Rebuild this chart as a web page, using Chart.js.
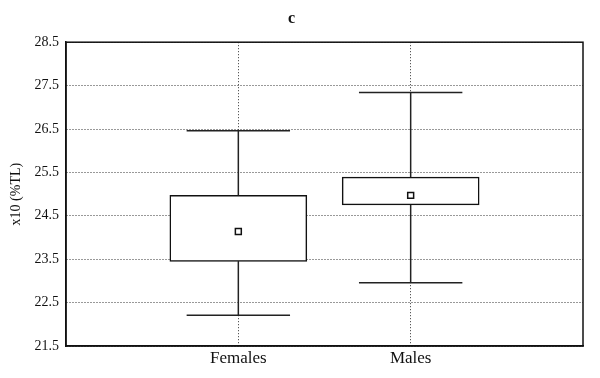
<!DOCTYPE html>
<html>
<head>
<meta charset="utf-8">
<script src="https://cdn.jsdelivr.net/npm/chart.js@4"></script>
<style>
  html, body { margin: 0; padding: 0; background: #fff; }
  #wrap { width: 600px; height: 378px; }
</style>
</head>
<body>
<div id="wrap"><canvas id="boxChart"></canvas></div>
<script>
// Box plot values
const categories = ['Females', 'Males'];
const means = [24.14, 24.97];
const boxLow = [23.45, 24.75];
const boxHigh = [24.97, 25.39];
const whiskerLow = [22.21, 22.96];
const whiskerHigh = [26.46, 27.34];
const yTicks = [21.5, 22.5, 23.5, 24.5, 25.5, 26.5, 27.5, 28.5];

const serif = 'Liberation Serif';
const capHalf = 0.3;

// Frame round the plot area
const frame = {
    id: 'frame',
    afterDatasetsDraw(chart) {
        const a = chart.chartArea;
        const ctx = chart.ctx;
        ctx.save();
        ctx.strokeStyle = '#111';
        ctx.lineWidth = 1.5;
        ctx.strokeRect(a.left, a.top, a.right - a.left, a.bottom - a.top);
        ctx.restore();
    }
};

let datasets = [];

// mean markers
datasets.push({
    type: 'line',
    data: categories.map((c, i) => ({x: i + 1, y: means[i]})),
    showLine: false,
    pointStyle: 'rect',
    pointRadius: 4.2,
    pointBackgroundColor: '#fff',
    pointBorderColor: '#111',
    pointBorderWidth: 1.5
});

// whiskers and caps
categories.forEach((c, i) => {
    const x = i + 1;
    const segs = [
        [{x: x, y: boxHigh[i]}, {x: x, y: whiskerHigh[i]}],
        [{x: x, y: boxLow[i]}, {x: x, y: whiskerLow[i]}],
        [{x: x - capHalf, y: whiskerHigh[i]}, {x: x + capHalf, y: whiskerHigh[i]}],
        [{x: x - capHalf, y: whiskerLow[i]}, {x: x + capHalf, y: whiskerLow[i]}]
    ];
    segs.forEach(seg => {
        datasets.push({
            type: 'line',
            data: seg,
            borderColor: '#222',
            borderWidth: 1.5,
            pointRadius: 0
        });
    });
});

// boxes
datasets.push({
    type: 'bar',
    data: categories.map((c, i) => ({x: i + 1, y: [boxLow[i], boxHigh[i]]})),
    backgroundColor: '#fff',
    borderColor: '#111',
    borderWidth: 1.5,
    borderSkipped: false,
    barThickness: 137
});

new Chart(document.getElementById('boxChart'), {
    type: 'bar',
    data: { datasets: datasets },
    options: {
        responsive: true,
        maintainAspectRatio: false,
        animation: false,
        layout: { padding: { left: 0, right: 17, top: 0, bottom: 0 } },
        scales: {
            x: {
                type: 'linear',
                min: 0,
                max: 3,
                offset: false,
                afterBuildTicks: scale => {
                    scale.ticks = categories.map((c, i) => ({value: i + 1}));
                },
                afterFit: scale => { scale.height = 32; },
                ticks: {
                    callback: v => categories[v - 1] || '',
                    color: '#111',
                    font: { family: serif, size: 17 },
                    padding: 2,
                    maxRotation: 0
                },
                grid: {
                    offset: false,
                    color: '#333',
                    drawTicks: false
                },
                border: { color: '#111', width: 1.5, dash: [1, 2] }
            },
            y: {
                min: 21.5,
                max: 28.5,
                afterBuildTicks: scale => {
                    scale.ticks = yTicks.map(v => ({value: v}));
                },
                afterFit: scale => { scale.width = 66; },
                ticks: {
                    callback: v => v.toFixed(1),
                    color: '#111',
                    font: { family: serif, size: 14 },
                    padding: 7
                },
                grid: {
                    color: '#333',
                    drawTicks: false
                },
                border: { color: '#111', width: 1.5, dash: [1, 2] },
                title: {
                    display: true,
                    text: 'x10 (%TL)',
                    color: '#111',
                    font: { family: serif, size: 14 },
                    padding: { top: 8, bottom: 0 }
                }
            }
        },
        plugins: {
            legend: { display: false },
            tooltip: { enabled: false },
            title: {
                display: true,
                text: 'c',
                color: '#111',
                font: { family: serif, size: 16, weight: 'bold' },
                padding: { top: 9, bottom: 14 }
            }
        }
    },
    plugins: [frame]
});
</script>
</body>
</html>
